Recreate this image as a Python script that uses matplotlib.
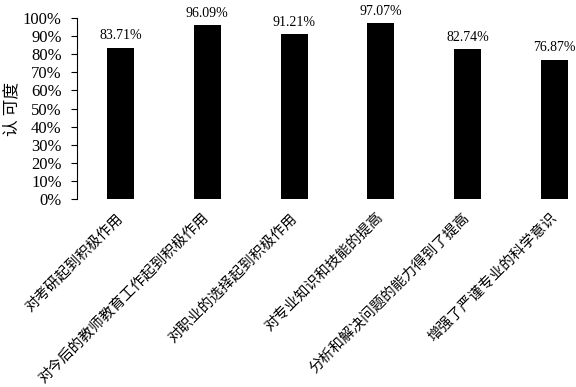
import matplotlib
matplotlib.use("Agg")
import matplotlib.pyplot as plt
from matplotlib.ticker import PercentFormatter

# Chart data
categories = [
    "对考研起到积极作用",
    "对今后的教师教育工作起到积极作用",
    "对职业的选择起到积极作用",
    "对专业知识和技能的提高",
    "分析和解决问题的能力得到了提高",
    "增强了严谨专业的科学意识",
]
values = [83.71, 96.09, 91.21, 97.07, 82.74, 76.87]
y_ticks = list(range(0, 101, 10))

plt.rcParams["font.family"] = ["Liberation Serif", "Noto Sans CJK SC", "DejaVu Sans"]

fig = plt.figure(figsize=(5.76, 3.87), dpi=100)
ax = fig.add_axes([77 / 576, 0.486, 521 / 576, 0.467])

x = list(range(len(categories)))
ax.bar(x, values, width=0.31, color="black")

# Value labels above bars
for xi, v in zip(x, values):
    ax.annotate(f"{v:.2f}%", (xi, v), xytext=(0, 4), textcoords="offset points",
                ha="center", va="bottom", fontsize=10)

ax.set_xlim(-0.5, len(categories) - 0.5)
ax.set_ylim(0, 100)
ax.set_yticks(y_ticks)
ax.yaxis.set_major_formatter(PercentFormatter(decimals=0))
ax.tick_params(axis="y", labelsize=12, length=4, width=0.8, pad=7)

ax.set_xticks(x)
ax.set_xticklabels(categories, rotation=45, ha="right", va="center",
                   rotation_mode="anchor", fontsize=10.5)
ax.tick_params(axis="x", length=0, pad=12)

for side in ["top", "right", "bottom"]:
    ax.spines[side].set_visible(False)
ax.spines["left"].set_linewidth(0.8)

ax.set_ylabel("认 可度", fontsize=12, labelpad=2)

fig.savefig("out.png", dpi=100)
